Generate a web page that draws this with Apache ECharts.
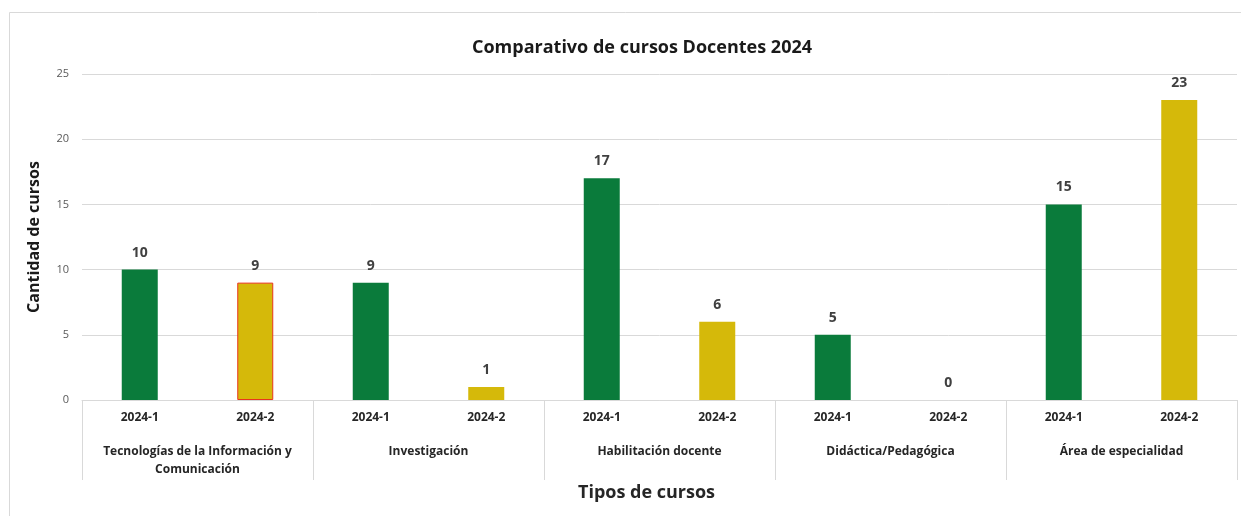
<!DOCTYPE html>
<html>
<head>
<meta charset="utf-8">
<script src="https://cdn.jsdelivr.net/npm/echarts@6/dist/echarts.min.js"></script>
<style>
html,body{margin:0;padding:0;background:#fff;}
#c{width:1241px;height:516px;}
</style>
</head>
<body>
<div id="c"></div>
<script>
const groups = ["Tecnologías de la Información y\nComunicación", "Investigación", "Habilitación docente", "Didáctica/Pedagógica", "Área de especialidad"];
const semesters = ["2024-1", "2024-2"];
const values2024_1 = [10, 9, 17, 5, 15];
const values2024_2 = [9, 1, 6, 0, 23];
const yTicks = [0, 5, 10, 15, 20, 25];

const GREEN = '#0A7B3B';
const YELLOW = '#D5B90A';
const FONT = 'Open Sans';

const subCats = [];
const barData = [];
groups.forEach((g, i) => {
  subCats.push(semesters[0]);
  barData.push({ value: values2024_1[i], itemStyle: { color: GREEN } });
  subCats.push(semesters[1]);
  const item = { value: values2024_2[i], itemStyle: { color: YELLOW } };
  if (i === 0) { item.itemStyle.borderColor = '#E8341C'; item.itemStyle.borderWidth = 1; }
  barData.push(item);
});

const chart = echarts.init(document.getElementById('c'), null, { renderer: 'canvas' });
chart.setOption({
  animation: false,
  backgroundColor: '#fff',
  textStyle: { fontFamily: FONT },
  title: {
    text: 'Comparativo de cursos Docentes 2024',
    left: 637, top: 34, textAlign: 'center',
    textStyle: { fontFamily: FONT, fontSize: 18, fontWeight: 'bold', color: '#1a1a1a' }
  },
  graphic: [{
    type: 'rect', shape: { x: 9.5, y: 12.5, width: 1260, height: 520 },
    style: { fill: null, stroke: '#d9d9d9', lineWidth: 1 }, silent: true, z: -1
  }],
  grid: { left: 82, right: 4, top: 74, bottom: 116 },
  xAxis: [{
    type: 'category', data: subCats, boundaryGap: true,
    axisLine: { show: true, lineStyle: { color: '#d9d9d9' } },
    axisTick: { show: false },
    axisLabel: { interval: 0, margin: 12, fontSize: 12, fontWeight: 'bold', color: '#262626', fontFamily: FONT }
  }, {
    type: 'category', data: groups, position: 'bottom', boundaryGap: true,
    axisLine: { show: false },
    axisTick: { show: true, length: 80, interval: 0, lineStyle: { color: '#d9d9d9' } },
    axisLabel: { interval: 0, margin: 43, fontSize: 12, fontWeight: 'bold', color: '#262626', lineHeight: 18, verticalAlign: 'top', fontFamily: FONT },
    name: 'Tipos de cursos', nameLocation: 'middle', nameGap: 84,
    nameTextStyle: { fontSize: 18, fontWeight: 'bold', color: '#262626', fontFamily: FONT, padding: [0, 26, 0, 0] }
  }],
  yAxis: {
    type: 'value', min: yTicks[0], max: yTicks[yTicks.length - 1], interval: 5,
    axisLine: { show: false }, axisTick: { show: false },
    axisLabel: { margin: 13, fontSize: 11, color: '#595959', fontFamily: FONT },
    splitLine: { lineStyle: { color: '#d9d9d9' } },
    name: 'Cantidad de cursos', nameLocation: 'middle', nameGap: 40, nameRotate: 90,
    nameTextStyle: { fontSize: 16, fontWeight: 'bold', color: '#1a1a1a', fontFamily: FONT }
  },
  series: [{
    type: 'bar', xAxisIndex: 0, data: barData, barWidth: 36,
    label: { show: true, position: 'top', distance: 10, fontSize: 14, fontWeight: 'bold', color: '#404040', fontFamily: FONT }
  }]
});
</script>
</body>
</html>
